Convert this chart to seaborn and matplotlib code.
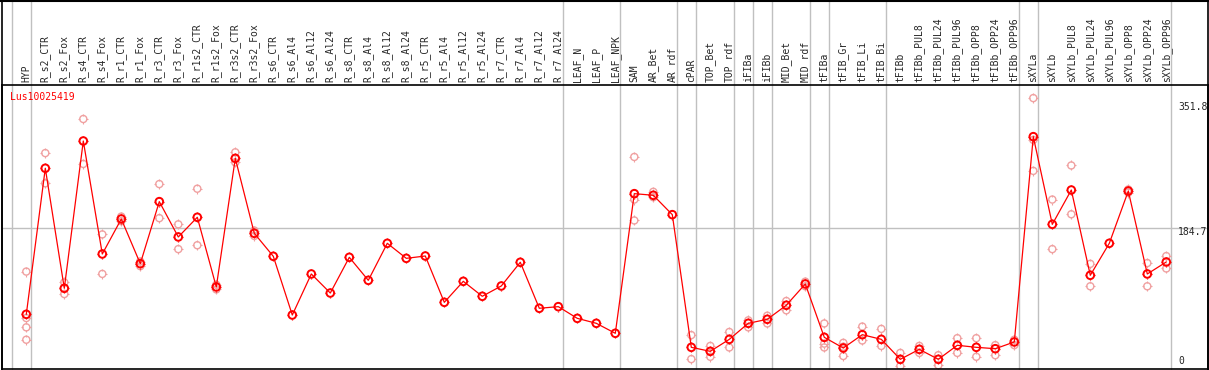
import numpy as np
import pandas as pd
import matplotlib
matplotlib.use("Agg")
import matplotlib.pyplot as plt
from matplotlib.path import Path
import seaborn as sns

# ==========================================
# data
# ==========================================
gene = "Lus10025419"

samples = ["HYP", "R_s2_CTR", "R_s2_Fox", "R_s4_CTR", "R_s4_Fox", "R_r1_CTR", "R_r1_Fox",
           "R_r3_CTR", "R_r3_Fox", "R_r1s2_CTR", "R_r1s2_Fox", "R_r3s2_CTR", "R_r3s2_Fox",
           "R_s6_CTR", "R_s6_Al4", "R_s6_Al12", "R_s6_Al24", "R_s8_CTR", "R_s8_Al4",
           "R_s8_Al12", "R_s8_Al24", "R_r5_CTR", "R_r5_Al4", "R_r5_Al12", "R_r5_Al24",
           "R_r7_CTR", "R_r7_Al4", "R_r7_Al12", "R_r7_Al24", "LEAF_N", "LEAF_P", "LEAF_NPK",
           "SAM", "AR_Bet", "AR_rdf", "cPAR", "TOP_Bet", "TOP_rdf", "iFIBa", "iFIBb",
           "MID_Bet", "MID_rdf", "tFIBa", "tFIB_Gr", "tFIB_Li", "tFIB_Bi", "tFIBb",
           "tFIBb_PUL8", "tFIBb_PUL24", "tFIBb_PUL96", "tFIBb_OPP8", "tFIBb_OPP24",
           "tFIBb_OPP96", "sXYLa", "sXYLb", "sXYLb_PUL8", "sXYLb_PUL24", "sXYLb_PUL96",
           "sXYLb_OPP8", "sXYLb_OPP24", "sXYLb_OPP96"]

mean_expr = [72.8, 261.4, 106.4, 296.6, 150.7, 195.9, 138.2, 218.3, 172.7, 198.1,
             108.1, 274.2, 177.4, 147.7, 71.9, 124.9, 100.3, 146.4, 116.7, 164.5,
             145.1, 148.1, 88.3, 115.4, 96.1, 109.4, 140.0, 80.6, 82.7, 67.6,
             61.2, 48.3, 228.6, 226.5, 201.5, 30.2, 25.0, 40.5, 61.2, 66.4,
             84.5, 112.0, 43.1, 29.3, 46.5, 40.5, 14.7, 27.6, 14.7, 32.8,
             30.2, 28.4, 37.1, 302.2, 189.0, 233.3, 123.2, 164.5, 232.0, 124.9, 140.4]

# single replicates (pink circles)
rep_sample = ["HYP", "HYP", "HYP", "HYP", "R_s2_CTR", "R_s2_CTR", "R_s2_Fox", "R_s2_Fox",
              "R_s4_CTR", "R_s4_CTR", "R_s4_Fox", "R_s4_Fox", "R_r1_CTR", "R_r1_CTR",
              "R_r1_Fox", "R_r1_Fox", "R_r3_CTR", "R_r3_CTR", "R_r3_Fox", "R_r3_Fox",
              "R_r1s2_CTR", "R_r1s2_CTR", "R_r1s2_Fox", "R_r1s2_Fox", "R_r3s2_CTR", "R_r3s2_CTR",
              "R_r3s2_Fox", "R_r3s2_Fox", "SAM", "SAM", "SAM", "AR_Bet", "AR_Bet",
              "cPAR", "cPAR", "TOP_Bet", "TOP_Bet", "TOP_rdf", "TOP_rdf", "iFIBa", "iFIBa",
              "iFIBb", "iFIBb", "MID_Bet", "MID_Bet", "MID_rdf", "MID_rdf",
              "tFIBa", "tFIBa", "tFIBa", "tFIB_Gr", "tFIB_Gr", "tFIB_Gr", "tFIB_Li", "tFIB_Li",
              "tFIB_Bi", "tFIB_Bi", "tFIBb", "tFIBb", "tFIBb_PUL8", "tFIBb_PUL8",
              "tFIBb_PUL24", "tFIBb_PUL24", "tFIBb_PUL96", "tFIBb_PUL96", "tFIBb_OPP8", "tFIBb_OPP8",
              "tFIBb_OPP24", "tFIBb_OPP24", "tFIBb_OPP96", "tFIBb_OPP96",
              "sXYLa", "sXYLa", "sXYLa", "sXYLb", "sXYLb", "sXYLb_PUL8", "sXYLb_PUL8",
              "sXYLb_PUL24", "sXYLb_PUL24", "sXYLb_OPP8", "sXYLb_OPP8",
              "sXYLb_OPP24", "sXYLb_OPP24", "sXYLb_OPP96", "sXYLb_OPP96"]
rep_expr = [128, 68, 56, 40, 281, 242, 114, 99,
            325, 267, 176, 125, 199, 193,
            141, 135, 241, 197, 189, 157,
            235, 162, 111, 105, 282, 269,
            181, 174, 276, 221, 194, 231, 224,
            46, 15, 32, 18, 50, 30, 65, 56,
            71, 61, 90, 78, 115, 109,
            61, 35, 30, 36, 19, 31, 57, 39,
            54, 32, 23, 6, 32, 23,
            20, 7, 42, 23, 42, 18,
            33, 20, 40, 33,
            352, 298, 258, 221, 157, 265, 202,
            138, 109, 234, 230,
            139, 109, 148, 132]

# group boundaries (after these samples)
group_ends = ["HYP", "R_r7_Al24", "LEAF_NPK", "AR_rdf", "cPAR", "TOP_rdf", "iFIBa", "iFIBb",
              "MID_rdf", "tFIBa", "tFIB_Bi", "tFIBb_OPP96", "sXYLa", "sXYLb_OPP96"]

y_ticks = ["0", "184.7", "351.8"]

# ==========================================
# plotting
# ==========================================
sns.set_style("white")
plt.rcParams['font.family'] = ['DejaVu Sans Mono', 'DejaVu Sans']

pos = {s: i for i, s in enumerate(samples)}
df_mean = pd.DataFrame({"x": np.arange(len(samples)), "expr": mean_expr})
df_rep = pd.DataFrame({"x": [pos[s] for s in rep_sample], "expr": rep_expr})

W, H = 1209, 370
fig = plt.figure(figsize=(W / 100, H / 100), dpi=100)
ax = fig.add_axes([1.5 / W, (H - 369.2) / H, (1208.3 - 1.5) / W, (369.2 - 85) / H])

# little tick marks around the circles
tick_path = Path([(0, 0.7), (0, 1), (0, -0.7), (0, -1), (0.7, 0), (1, 0), (-0.7, 0), (-1, 0)],
                 [Path.MOVETO, Path.LINETO] * 4)

pink = "#f0a0a0"
ax.scatter(df_rep["x"], df_rep["expr"], marker=tick_path, s=50, color=pink, lw=0.8, zorder=2)
sns.scatterplot(data=df_rep, x="x", y="expr", ax=ax, marker="o", s=26,
                facecolor="none", edgecolor=pink, linewidth=1.0, zorder=2)

sns.lineplot(data=df_mean, x="x", y="expr", ax=ax, color="red", lw=0.9, zorder=3)
ax.scatter(df_mean["x"], df_mean["expr"], marker=tick_path, s=55, color="red", lw=0.9, zorder=4)
sns.scatterplot(data=df_mean, x="x", y="expr", ax=ax, marker="o", s=30,
                facecolor="none", edgecolor="red", linewidth=1.4, zorder=4)

# grid lines
ax.axhline(184.7, color="#c0c0c0", lw=1.0, zorder=1)
for s in ["_start"] + group_ends:
    xv = (pos[s] if s in pos else -1) + 0.23
    ax.axvline(xv, ymin=0, ymax=1.305, color="#c0c0c0", lw=1.0, zorder=1, clip_on=False)

ax.set_xlim((1.5 - 26.3) / 19, (1208.3 - 26.3) / 19)
ax.set_ylim(1.94, 368.9)

# sample names in the header
ax.xaxis.tick_top()
ax.set_xticks(np.arange(len(samples)))
ax.set_xticklabels(samples, rotation=90, fontsize=7)
ax.tick_params(axis="x", length=0, pad=2)
ax.set_yticks([])
ax.set_xlabel("")
ax.set_ylabel("")
for sp in ax.spines.values():
    sp.set_color("black")
    sp.set_linewidth(1.2)

# value labels on the right
for lab, yl in zip(y_ticks, [11.9, 178.7, 339.9]):
    ax.text(60.62, yl, lab, ha="left", va="center", fontsize=7)

ax.text(-0.86, 353.4, gene, color="red", ha="left", va="center", fontsize=7)

# outer frame of the header
fig.add_artist(plt.Line2D([0, 1], [1 - 0.5 / H, 1 - 0.5 / H], color="black", lw=1.5))
fig.add_artist(plt.Line2D([1.5 / W, 1.5 / W], [0, 1], color="black", lw=1.2))
fig.add_artist(plt.Line2D([1208.3 / W, 1208.3 / W], [0, 1], color="black", lw=1.2))

plt.savefig("out.png", dpi=100)
